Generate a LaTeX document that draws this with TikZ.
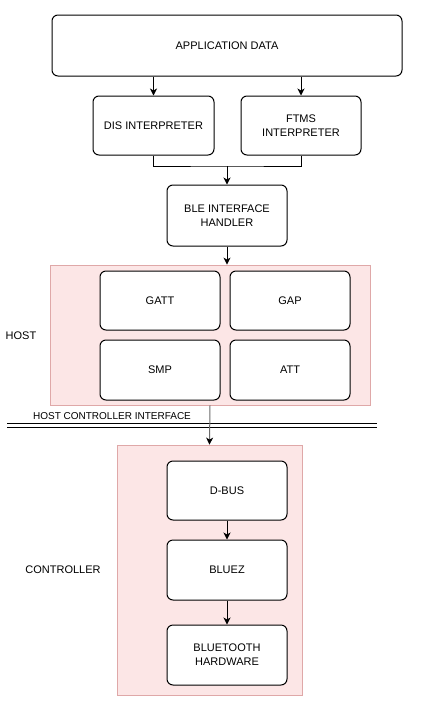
\documentclass[tikz,border=0pt]{standalone}
\usepackage{fontspec}
\setmainfont{Liberation Sans}
\usetikzlibrary{arrows.meta}
\definecolor{pinkfill}{HTML}{FCE6E6}
\definecolor{pinkline}{HTML}{DFA8A8}
\begin{document}
\begin{tikzpicture}[x=1pt,y=-1pt,
  font=\fontsize{11}{14}\selectfont,
  box/.style={draw=black,line width=1pt,rounded corners=6pt,fill=white,align=center,inner sep=0pt},
  group/.style={draw=pinkline,fill=pinkfill,line width=0.8pt,inner sep=0pt},
  lbl/.style={inner sep=0pt,align=center},
  arr/.style={line width=1pt,-{Stealth[length=7pt,width=7pt,inset=2pt]}},
  conn/.style={line width=1pt}]
\useasboundingbox (0,0) rectangle (434,710);
\fill[white] (0,0) rectangle (434,710);
% groups
\node[group,minimum width=320pt,minimum height=140pt] (hostbox) at (210,335) {};
\node[group,minimum width=185pt,minimum height=250pt] (ctrlbox) at (209.5,570) {};
% boxes
\node[box,minimum width=350pt,minimum height=61pt] (app) at (227,45.5) {APPLICATION DATA};
\node[box,minimum width=121pt,minimum height=59pt] (dis) at (153.5,125.5) {DIS INTERPRETER};
\node[box,minimum width=120pt,minimum height=59pt] (ftms) at (301,125.5) {FTMS\\INTERPRETER};
\node[box,minimum width=120pt,minimum height=61pt] (ble) at (227,215.5) {BLE INTERFACE\\HANDLER};
\node[box,minimum width=120pt,minimum height=59pt] (gatt) at (160,300.5) {GATT};
\node[box,minimum width=120pt,minimum height=59pt] (gap) at (290,300.5) {GAP};
\node[box,minimum width=120pt,minimum height=60pt] (smp) at (160,370) {SMP};
\node[box,minimum width=120pt,minimum height=60pt] (att) at (290,370) {ATT};
\node[box,minimum width=120pt,minimum height=59pt] (dbus) at (227,490.5) {D-BUS};
\node[box,minimum width=120pt,minimum height=60pt] (bluez) at (227,570) {BLUEZ};
\node[box,minimum width=120pt,minimum height=60pt] (bth) at (227,655) {BLUETOOTH\\HARDWARE};
% labels
\node[lbl] (hostlbl) at (21,336) {HOST};
\node[lbl] (ctrllbl) at (63,570) {CONTROLLER};
\node[lbl,font=\fontsize{10}{12}\selectfont] (hcilbl) at (112,416) {HOST CONTROLLER INTERFACE};
% HCI double line
\coordinate (hciA1) at (7,423);
\coordinate (hciB1) at (377,423);
\coordinate (hciA2) at (7,427);
\coordinate (hciB2) at (377,427);
\draw[line width=1pt] (hciA1) -- (hciB1);
\draw[line width=1pt] (hciA2) -- (hciB2);
% connectors
\draw[arr] (app.south -| dis.north) -- (dis.north);
\draw[arr] (app.south -| ftms.north) -- (ftms.north);
\coordinate (mj) at (227,166);
\draw[conn] (dis.south) |- (mj) -| (ftms.south);
\draw[arr] (mj) -- (ble.north);
\draw[arr] (ble.south) -- (ble.south |- hostbox.north);
\draw[line width=1pt,draw=gray!85!black,-{Stealth[length=7pt,width=7pt,inset=2pt,color=black]}] (hostbox.south) -- (ctrlbox.north);
\draw[arr] (dbus.south) -- (bluez.north);
\draw[arr] (bluez.south) -- (bth.north);
\end{tikzpicture}
\end{document}
